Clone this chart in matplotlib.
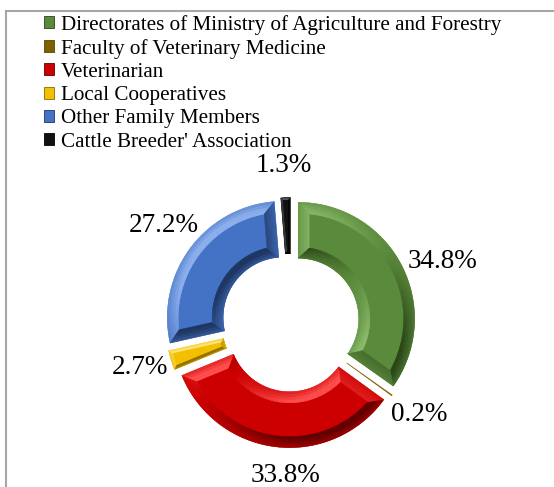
import matplotlib.pyplot as plt
import numpy as np
from matplotlib.patches import Patch
from matplotlib.collections import PolyCollection
from matplotlib.lines import Line2D
from matplotlib.colors import to_rgb

plt.rcParams['font.family'] = ['Liberation Serif', 'DejaVu Serif']

# share of each information source (%)
sources = ["Directorates of Ministry of Agriculture and Forestry",
           "Faculty of Veterinary Medicine",
           "Veterinarian",
           "Local Cooperatives",
           "Other Family Members",
           "Cattle Breeder' Association"]
shares = [34.8, 0.2, 33.8, 2.7, 27.2, 1.3]

# face / shadow / highlight colours per slice
face_cols = ['#5a8a3b', '#7f6000', '#cc0000', '#f2c000', '#4472c4', '#111111']
dark_cols = ['#2a4418', '#5a4400', '#600000', '#8c6c00', '#1e355f', '#000000']
light_cols = ['#8cbc6c', '#a88a30', '#ff5050', '#ffe680', '#8fb2ee', '#555555']

# small per-label shifts (data units) for the value labels
label_shift = [(0.10, -0.10), (0.0, 0.0), (0.12, 0.035),
               (0.0, 0.025), (0.0, 0.035), (0.0, 0.0)]

light_dir = np.array([-0.6, 0.8])


def inset_ring(cx, cy, r_in, r_out, th1, th2, t, n=90):
    """Ring sector outline shrunk by a constant distance t on every side."""
    ro, ri = r_out - t, r_in + t
    a1o = np.radians(th1) + np.arcsin(min(t / ro, 1))
    a2o = np.radians(th2) - np.arcsin(min(t / ro, 1))
    a1i = np.radians(th1) + np.arcsin(min(t / ri, 1))
    a2i = np.radians(th2) - np.arcsin(min(t / ri, 1))
    if a2o <= a1o or a2i <= a1i:
        return None
    outer = np.linspace(a1o, a2o, n)
    inner = np.linspace(a2i, a1i, n)
    xs = np.concatenate([cx + ro * np.cos(outer), cx + ri * np.cos(inner)])
    ys = np.concatenate([cy + ro * np.sin(outer), cy + ri * np.sin(inner)])
    return np.column_stack([xs, ys])


def shade(face, dark, light, s):
    f, d, l = np.array(to_rgb(face)), np.array(to_rgb(dark)), np.array(to_rgb(light))
    if s < 0:
        return f + (d - f) * min(-s, 1)
    return f + (l - f) * min(s, 1)


def bevel(ax, outer, inner, face, dark, light, steps=4):
    """Sloped frame between two outlines, lit from the upper left."""
    m = len(outer)
    for j in range(steps):
        a = outer + (inner - outer) * j / steps
        b = outer + (inner - outer) * (j + 1) / steps
        polys, cols = [], []
        for k in range(m):
            k2 = (k + 1) % m
            d = a[k2] - a[k]
            nrm = np.array([d[1], -d[0]])
            ln = np.hypot(*nrm)
            if ln == 0:
                continue
            s = np.dot(nrm / ln, light_dir)
            # slope gets steeper towards the face: stronger shading there
            s = s * (0.45 + 0.9 * (j + 0.5) / steps)
            polys.append([a[k], a[k2], b[k2], b[k]])
            cols.append(shade(face, dark, light, s))
        ax.add_collection(PolyCollection(polys, facecolors=cols, edgecolors=cols,
                                         linewidths=0.3))


fig = plt.figure(figsize=(5.54, 4.87), dpi=100)
ax = fig.add_axes([0.2091, -0.0215, 0.6309, 0.7177])

wedges, _, pct = ax.pie(shares, colors=face_cols, startangle=90, counterclock=False,
                        explode=[0.073] * len(shares), radius=1.0,
                        autopct='%.1f%%', pctdistance=1.28,
                        wedgeprops=dict(width=0.48, linewidth=0),
                        textprops=dict(fontsize=19.5, color='black'))

for i, w in enumerate(wedges):
    cx, cy = w.center
    r_out = w.r
    r_in = w.r - w.width
    th1, th2 = w.theta1, w.theta2
    span = np.radians(th2 - th1) * r_in
    if span < 0.03:
        continue
    t_band = min(0.095, span * 0.3)
    outer = inset_ring(cx, cy, r_in, r_out, th1, th2, 0.0)
    inner = inset_ring(cx, cy, r_in, r_out, th1, th2, t_band)
    if inner is not None:
        bevel(ax, outer, inner, face_cols[i], dark_cols[i], light_cols[i])

for t, (dx, dy) in zip(pct, label_shift):
    x, y = t.get_position()
    t.set_position((x + dx, y + dy))

ax.set_xlim(-1.5, 1.5)
ax.set_ylim(-1.5, 1.5)
ax.set_aspect('equal')
ax.axis('off')

handles = [Patch(facecolor=c, edgecolor=d, linewidth=0.6) for c, d in zip(face_cols, dark_cols)]
fig.legend(handles, sources, loc='upper left', bbox_to_anchor=(0.079, 0.970),
           frameon=False, fontsize=15.2, handlelength=0.5, handleheight=0.5,
           handletextpad=0.3, labelspacing=0.2, borderpad=0, borderaxespad=0)

# chart area border (top and left edges)
fig.add_artist(Line2D([0.0108, 1.0], [0.978, 0.978], color='#a6a6a6', linewidth=1.5))
fig.add_artist(Line2D([0.0108, 0.0108], [0.0, 0.978], color='#a6a6a6', linewidth=1.5))

fig.savefig('out.png', dpi=100)
